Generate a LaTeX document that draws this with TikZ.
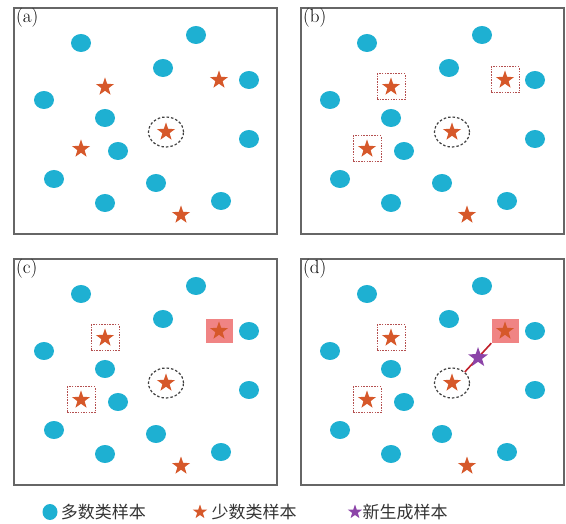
\documentclass[tikz,border=0pt]{standalone}
\usepackage{fontspec}
\newfontfamily\cjk{Noto Sans CJK SC}
\usetikzlibrary{shapes.geometric, positioning}

\definecolor{majblue}{RGB}{30,176,210}
\definecolor{minred}{RGB}{214,88,42}
\definecolor{newpurple}{RGB}{140,68,168}
\definecolor{boxred}{RGB}{180,80,80}
\definecolor{pickpink}{RGB}{240,132,132}
\definecolor{linkred}{RGB}{192,32,42}

\begin{document}
\begin{tikzpicture}[
    x=1pt, y=-1pt,
    frame/.style={draw=black!60, line width=1.3pt},
    tag/.style={anchor=north west, inner sep=0pt, font=\fontsize{19}{21}\selectfont},
    major/.style={ellipse, fill=majblue, minimum width=20pt, minimum height=18pt, inner sep=0pt},
    minor/.style={star, star points=5, star point ratio=2.5, fill=minred, minimum size=19pt, inner sep=0pt},
    newstar/.style={star, star points=5, star point ratio=2.5, fill=newpurple, minimum size=21pt, inner sep=0pt},
    ring/.style={ellipse, draw=black!75, line width=1.2pt, dash pattern=on 2.5pt off 2pt, minimum width=35pt, minimum height=30pt},
    nearbox/.style={rectangle, draw=boxred, line width=1pt, dash pattern=on 1.5pt off 1.2pt, minimum width=28pt, minimum height=26pt},
    pickbox/.style={rectangle, fill=pickpink, minimum width=27pt, minimum height=24pt},
    link/.style={draw=linkred, line width=1.6pt},
    keytext/.style={inner sep=0pt, text=black!80, font=\cjk\fontsize{17}{20}\selectfont},
]
\useasboundingbox (0,0) rectangle (566,524);

% Frames and labels
\foreach \p/\dx/\dy in {a/0/0, b/287/0, c/0/251, d/287/251} {
    \begin{scope}[shift={(\dx,\dy)}]
        \draw [frame] (14,8) rectangle (277,234);
        \node [tag] (\p-tag) at (16,8) {(\p)};
    \end{scope}
}

% Chosen neighbour (behind its star)
\node [pickbox] (c-pick) at (219,331) {};
\node [pickbox] (d-pick) at (505,331) {};

% Samples
\foreach \p/\dx/\dy in {a/0/0, b/286/0, c/0/251, d/286/251} {
    \begin{scope}[shift={(\dx,\dy)}]
        \foreach [count=\i] \x/\y in {81/43, 196/35, 163/68, 249/80, 44/100, 105/118,
                                      249/139, 118/151, 54/179, 156/183, 105/203, 221/201}
            \node [major] (\p-maj\i) at (\x,\y) {};
        \foreach [count=\i] \x/\y in {105/87, 219/80, 166/132, 81/149, 181/215}
            \node [minor] (\p-min\i) at (\x,\y) {};
        \node [ring] (\p-ring) at (\p-min3) {};
    \end{scope}
}

% K nearest neighbours
\node [nearbox] at (b-min1) {};
\node [nearbox] at (b-min2) {};
\node [nearbox] at (b-min4) {};
\node [nearbox] at (c-min1) {};
\node [nearbox] at (c-min4) {};
\node [nearbox] at (d-min1) {};
\node [nearbox] at (d-min4) {};

% Interpolation
\path [link] (d-pick.south west) -- node [newstar, pos=0.5] (d-new) {} (d-ring.north east);

% Legend
\node [major, minimum width=15pt, minimum height=16pt] (key-maj) at (50,512) {};
\node [keytext, right=3pt of key-maj] (key-maj-txt) {多数类样本};
\node [minor, minimum size=15pt] (key-min) at (200,512) {};
\node [keytext, right=7pt of key-min] (key-min-txt) {少数类样本};
\node [newstar, minimum size=15pt] (key-new) at (355,512) {};
\node [keytext, right=3pt of key-new] (key-new-txt) {新生成样本};

\end{tikzpicture}
\end{document}
